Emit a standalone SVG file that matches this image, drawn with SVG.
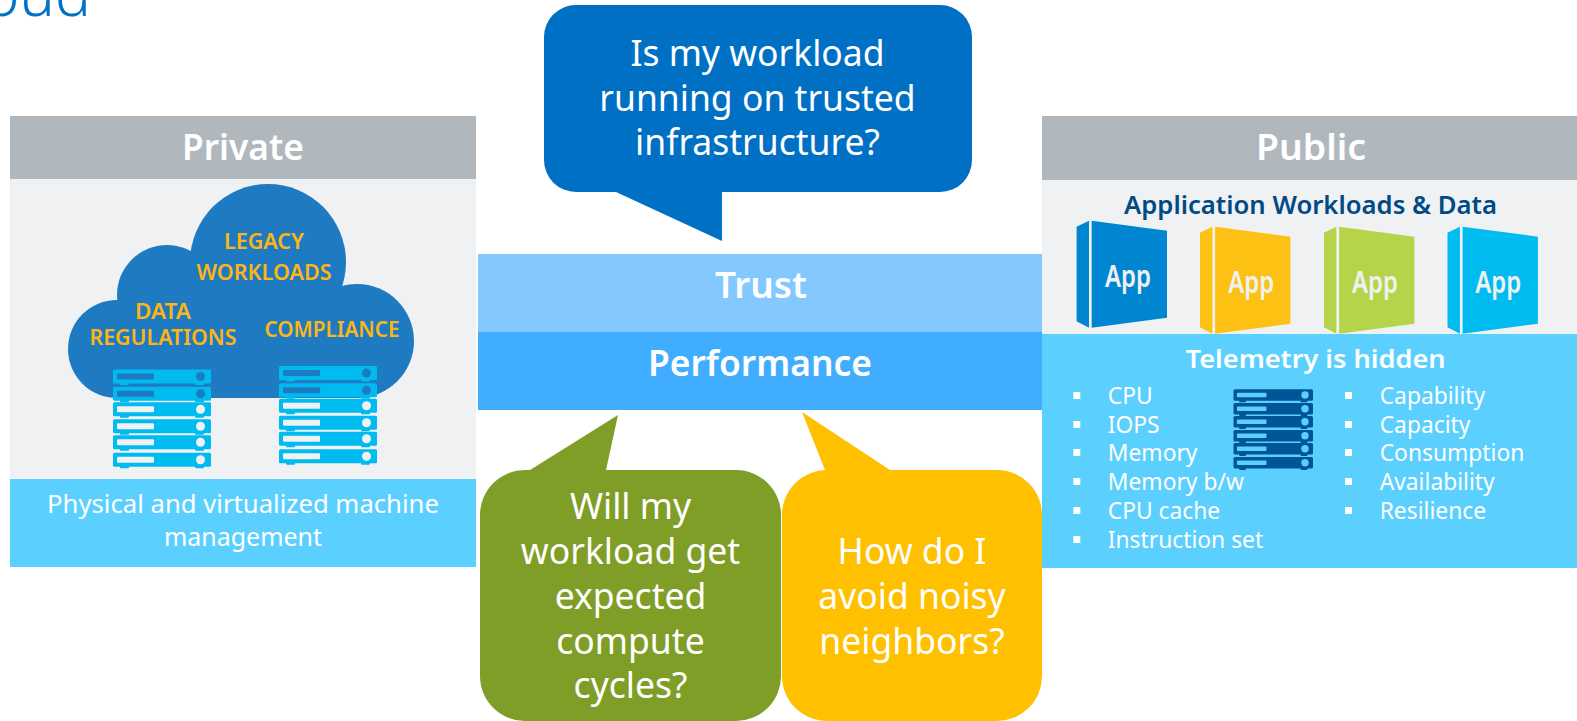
<svg xmlns="http://www.w3.org/2000/svg" width="1577" height="721" viewBox="0 0 1577 721">
<style>
text{font-family:"Noto Sans","Open Sans","DejaVu Sans",sans-serif;text-anchor:middle;fill:#fff}
.head{font-size:36px;font-weight:600}
.band{font-size:36px;font-weight:600}
.ask{font-size:35.500px}
.foot{font-size:25.500px}
.cl{font-size:21.500px;font-weight:600;fill:#fdb515}
.li{font-size:22.800px;text-anchor:start}
.app{font-size:30px;font-weight:600;fill:#f0f1f3}
.bul{fill:#fff}
</style>
<defs>
<g id="slab">
<rect x="0" y="0" width="98" height="14" rx="1.5" fill="#00bbf0"/>
<rect x="7" y="13" width="9" height="2.500" rx="1" fill="#00bbf0"/>
<rect x="82" y="13" width="9" height="2.500" rx="1" fill="#00bbf0"/>
<rect x="4" y="4" width="37" height="6" rx="1" fill="currentColor"/>
<circle cx="87.500" cy="7" r="4.500" fill="currentColor"/>
</g>
<g id="dslab">
<rect x="0" y="0" width="79.500" height="11.500" rx="1.500" fill="#005596"/>
<rect x="5.500" y="11" width="7" height="2" rx="1" fill="#005596"/>
<rect x="67" y="11" width="7" height="2" rx="1" fill="#005596"/>
<rect x="3.400" y="3.400" width="29.600" height="4.600" rx="1" fill="#5bd0ff"/>
<circle cx="71.500" cy="5.700" r="3.700" fill="#5bd0ff"/>
</g>
<g id="box">
<path d="M0 6L12.400 0V107L0 100.500Z" fill="currentColor"/>
<path d="M15.100 0L90.400 10V97L15.100 107Z" fill="currentColor"/>
</g>
<rect id="b" width="7" height="7"/>
</defs>

<g id="title"><text x="91" y="16" style="font-size:60px;font-weight:300;fill:#0071c5;text-anchor:end">oud</text></g>

<g id="private">
<rect x="10" y="116" width="466" height="63" fill="#b0b8bd"/>
<rect x="10" y="179" width="466" height="300" fill="#f0f1f3"/>
<rect x="10" y="479" width="466" height="88" fill="#5bd0ff"/>
<text class="head" x="243" y="160" textLength="122" lengthAdjust="spacingAndGlyphs">Private</text>
<g id="cloud" fill="#1e7bc1">
<circle cx="268" cy="262" r="78"/>
<circle cx="167" cy="295" r="50"/>
<circle cx="117" cy="349" r="49"/>
<circle cx="357" cy="341" r="57"/>
<rect x="117" y="320" width="240" height="78"/>
<rect x="160" y="290" width="180" height="40"/>
</g>
<text class="cl" x="264" y="249" textLength="80" lengthAdjust="spacingAndGlyphs">LEGACY</text>
<text class="cl" x="264" y="280" textLength="135" lengthAdjust="spacingAndGlyphs">WORKLOADS</text>
<text class="cl" x="163" y="319" textLength="56" lengthAdjust="spacingAndGlyphs">DATA</text>
<text class="cl" x="163" y="345" textLength="147" lengthAdjust="spacingAndGlyphs">REGULATIONS</text>
<text class="cl" x="332" y="337" textLength="135" lengthAdjust="spacingAndGlyphs">COMPLIANCE</text>
<g id="stack-left">
<use href="#slab" x="113" y="369.500" color="#1e7bc1"/>
<use href="#slab" x="113" y="386.700" color="#1e7bc1"/>
<use href="#slab" x="113" y="402.300" color="#f0f1f3"/>
<use href="#slab" x="113" y="419.300" color="#f0f1f3"/>
<use href="#slab" x="113" y="435.300" color="#f0f1f3"/>
<use href="#slab" x="113" y="452.700" color="#f0f1f3"/>
</g>
<g id="stack-right">
<use href="#slab" x="279" y="366" color="#1e7bc1"/>
<use href="#slab" x="279" y="383.200" color="#1e7bc1"/>
<use href="#slab" x="279" y="398.800" color="#f0f1f3"/>
<use href="#slab" x="279" y="415.800" color="#f0f1f3"/>
<use href="#slab" x="279" y="431.800" color="#f0f1f3"/>
<use href="#slab" x="279" y="449.200" color="#f0f1f3"/>
</g>
<text class="foot" x="243" y="513" textLength="392" lengthAdjust="spacingAndGlyphs">Physical and virtualized machine</text>
<text class="foot" x="243" y="546" textLength="158" lengthAdjust="spacingAndGlyphs">management</text>
</g>

<g id="center">
<rect x="478" y="254" width="564" height="78" fill="#83c9ff"/>
<rect x="478" y="332" width="564" height="78" fill="#40adff"/>
<text class="band" x="761" y="298" textLength="92" lengthAdjust="spacingAndGlyphs">Trust</text>
<text class="band" x="760" y="376" textLength="224" lengthAdjust="spacingAndGlyphs">Performance</text>
</g>

<g id="ask-blue">
<path fill="#0070c5" d="M576 5H940A32 32 0 0 1 972 37V160A32 32 0 0 1 940 192H722V241L616 192H576A32 32 0 0 1 544 160V37A32 32 0 0 1 576 5Z"/>
<text class="ask" x="757.500" y="66">Is my workload</text>
<text class="ask" x="757.500" y="111">running on trusted</text>
<text class="ask" x="757.500" y="155">infrastructure?</text>
</g>
<g id="ask-green">
<path fill="#7f9e27" d="M530 470L618 415L606 470H736A45 45 0 0 1 781 515V676A45 45 0 0 1 736 721H525A45 45 0 0 1 480 676V515A45 45 0 0 1 525 470Z"/>
<text class="ask" x="630.500" y="519">Will my</text>
<text class="ask" x="630.500" y="564">workload get</text>
<text class="ask" x="630.500" y="609">expected</text>
<text class="ask" x="630.500" y="654">compute</text>
<text class="ask" x="630.500" y="698">cycles?</text>
</g>
<g id="ask-orange">
<path fill="#ffc000" d="M825 470L802 412L890 470H997A45 45 0 0 1 1042 515V676A45 45 0 0 1 997 721H827A45 45 0 0 1 782 676V515A45 45 0 0 1 827 470Z"/>
<text class="ask" x="912" y="564">How do I</text>
<text class="ask" x="912" y="609">avoid noisy</text>
<text class="ask" x="912" y="654">neighbors?</text>
</g>

<g id="public">
<rect x="1042" y="116" width="535" height="64" fill="#b0b8bd"/>
<rect x="1042" y="180" width="535" height="154" fill="#f0f1f3"/>
<rect x="1042" y="334" width="535" height="234" fill="#5bd0ff"/>
<text class="head" x="1311" y="160" textLength="110" lengthAdjust="spacingAndGlyphs">Public</text>
<text x="1310.500" y="214" textLength="373" lengthAdjust="spacingAndGlyphs" style="font-size:26px;font-weight:600;fill:#004a86">Application Workloads &amp; Data</text>
<g id="apps">
<use href="#box" x="1076.600" y="220.700" color="#0086d1"/>
<text class="app" x="1128" y="287" textLength="46" lengthAdjust="spacingAndGlyphs">App</text>
<use href="#box" x="1200" y="226.700" color="#fdc114"/>
<text class="app" x="1251.300" y="293" textLength="46" lengthAdjust="spacingAndGlyphs">App</text>
<use href="#box" x="1324" y="226.700" color="#b5d44a"/>
<text class="app" x="1375" y="293" textLength="46" lengthAdjust="spacingAndGlyphs">App</text>
<use href="#box" x="1447.500" y="226.700" color="#00bbf0"/>
<text class="app" x="1498.200" y="293" textLength="46" lengthAdjust="spacingAndGlyphs">App</text>
</g>
<text x="1315.700" y="368" textLength="260" lengthAdjust="spacingAndGlyphs" style="font-size:26px;font-weight:600">Telemetry is hidden</text>
<g id="stack-dark">
<use href="#dslab" x="1233.500" y="389.300"/>
<use href="#dslab" x="1233.500" y="403"/>
<use href="#dslab" x="1233.500" y="416"/>
<use href="#dslab" x="1233.500" y="430"/>
<use href="#dslab" x="1233.500" y="443"/>
<use href="#dslab" x="1233.500" y="457"/>
</g>
<g id="list-left" class="bul">
<use href="#b" x="1073.300" y="392"/><use href="#b" x="1073.300" y="421"/><use href="#b" x="1073.300" y="449"/><use href="#b" x="1073.300" y="478"/><use href="#b" x="1073.300" y="507"/><use href="#b" x="1073.300" y="536"/>
<text class="li" x="1107.800" y="404">CPU</text>
<text class="li" x="1107.800" y="433">IOPS</text>
<text class="li" x="1107.800" y="461">Memory</text>
<text class="li" x="1107.800" y="490">Memory b/w</text>
<text class="li" x="1107.800" y="519">CPU cache</text>
<text class="li" x="1107.800" y="548">Instruction set</text>
</g>
<g id="list-right" class="bul">
<use href="#b" x="1345" y="392"/><use href="#b" x="1345" y="421"/><use href="#b" x="1345" y="449"/><use href="#b" x="1345" y="478"/><use href="#b" x="1345" y="507"/>
<text class="li" x="1379.700" y="404">Capability</text>
<text class="li" x="1379.700" y="433">Capacity</text>
<text class="li" x="1379.700" y="461">Consumption</text>
<text class="li" x="1379.700" y="490">Availability</text>
<text class="li" x="1379.700" y="519">Resilience</text>
</g>
</g>
</svg>
